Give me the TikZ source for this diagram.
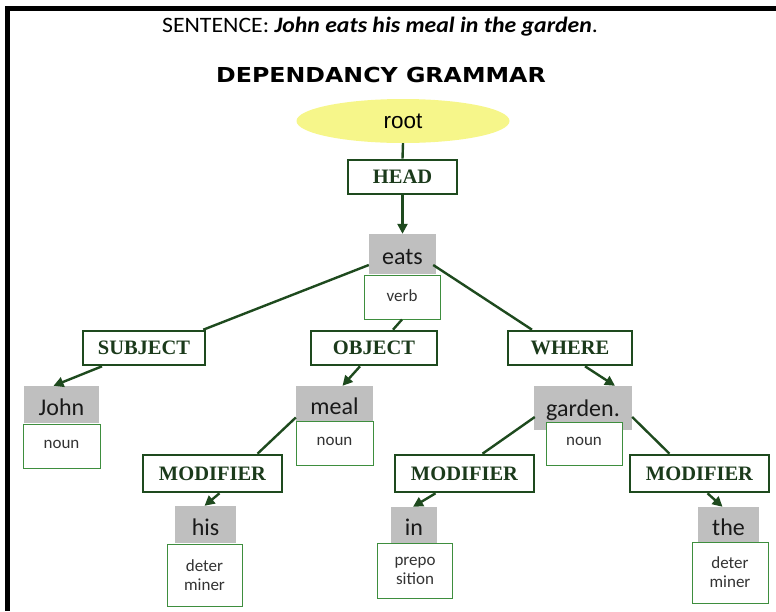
\documentclass[tikz,border=0pt]{standalone}
\usepackage{fontspec}
\setmainfont{Liberation Serif}
\newfontfamily\calfont{Carlito}
\newfontfamily\arialfont{Liberation Sans}
\newfontfamily\headfont{DejaVu Sans}
\usetikzlibrary{arrows.meta,calc,shapes.geometric}
\definecolor{relgreen}{HTML}{1E4A1E}
\definecolor{reltext}{HTML}{1B3A1B}
\definecolor{tagline}{HTML}{3E8E3E}
\definecolor{wordgray}{HTML}{BFBFBF}
\definecolor{rootyellow}{HTML}{F6F68A}
\tikzset{
  relbox/.style={draw=relgreen, line width=2.6pt, fill=white, inner sep=0pt,
    minimum height=34pt, font=\fontsize{20.5}{20.5}\selectfont\bfseries, text=reltext},
  wordbox/.style={fill=wordgray, inner sep=0pt, text height=21pt, text depth=0pt,
    font=\calfont\fontsize{24}{24}\selectfont, text=black!90},
  tagbox/.style={draw=tagline, line width=1pt, fill=white, inner sep=0pt, align=center,
    font=\calfont\fontsize{17}{19}\selectfont, text=black!80},
  link/.style={draw=relgreen, line width=2.4pt},
  arc/.style={link, -{Triangle[length=10pt,width=10pt]}}
}
\newcommand{\lifted}[2]{\raisebox{#1}{#2}}
\begin{document}
\begin{tikzpicture}[x=1pt,y=-1pt]
\useasboundingbox (0,0) rectangle (776,611);
% frame on the left and top
\fill[black] (5,6) rectangle (10,611);
\fill[black] (5,6) rectangle (776,11);

% headings
\node[font=\calfont\fontsize{22}{22}\selectfont] (sent) at (380,27)
  {\scalebox{1.08}[1]{SENTENCE: \textbf{\itshape John eats his meal in the garden}.}};
\node[font=\headfont\bfseries\fontsize{20.6}{20.6}\selectfont] (dg) at (381,75)
  {\scalebox{1.15}[1]{DEPENDANCY GRAMMAR}};

% root and head
\node[ellipse, fill=rootyellow, minimum width=213pt, minimum height=44pt, inner sep=0pt,
  font=\arialfont\fontsize{22.5}{22.5}\selectfont] (root) at (403,121) {root};
\node[relbox, minimum width=109pt] (head) at (402.5,177) {HEAD};

% word boxes with their tags
\node[wordbox, minimum width=67pt, minimum height=40pt] (eats) at (402.5,254) {eats};
\node[tagbox, minimum width=76pt, minimum height=44pt] (eatsT) at (402,297) {\lifted{3pt}{verb}};

\node[wordbox, minimum width=75pt, minimum height=37pt] (john) at (61.5,404.5) {John};
\node[tagbox, minimum width=77pt, minimum height=44pt] (johnT) at (61.5,446) {\lifted{3pt}{noun}};

\node[wordbox, minimum width=77pt, minimum height=35pt] (meal) at (334.5,403.5) {meal};
\node[tagbox, minimum width=77pt, minimum height=44pt] (mealT) at (334.5,443) {\lifted{4pt}{noun}};

\node[wordbox, text height=16pt, minimum width=98pt, minimum height=44pt] (garden) at (583,408) {garden.};
\node[tagbox, minimum width=76pt, minimum height=43pt] (gardenT) at (584,443.5) {\lifted{4pt}{noun}};

\node[wordbox, minimum width=61pt, minimum height=37pt] (his) at (205.5,524.5) {his};
\node[tagbox, minimum width=75pt, minimum height=62pt] (hisT) at (204.5,575) {deter\\miner};

\node[wordbox, minimum width=46pt, minimum height=36pt] (in) at (414,525) {in};
\node[tagbox, minimum width=75pt, minimum height=55pt] (inT) at (415,570.5) {prepo\\sition};

\node[wordbox, minimum width=61pt, minimum height=36pt] (the) at (728.5,525) {the};
\node[tagbox, minimum width=76pt, minimum height=61pt] (theT) at (730,572.5) {deter\\miner};

% relation boxes
\node[relbox, minimum width=122pt] (subject) at (144,348) {SUBJECT};
\node[relbox, minimum width=126pt] (object) at (374,348) {OBJECT};
\node[relbox, minimum width=124pt] (where) at (570,348) {WHERE};
\node[relbox, minimum width=139pt, minimum height=37pt] (mod1) at (212.5,473.5) {MODIFIER};
\node[relbox, minimum width=139pt, minimum height=37pt] (mod2) at (464.5,473.5) {MODIFIER};
\node[relbox, minimum width=139pt, minimum height=37pt] (mod3) at (699.5,473.5) {MODIFIER};

% connectors
\draw[link] (root.south) -- (head.north);
\draw[arc] (head.south) -- (eats.north);

\draw[link] ($(eats.west)+(0,11)$) -- ($(subject.north east)+(-3,0)$);
\draw[link] (eatsT.south) -- ($(object.north)+(19,0)$);
\draw[link] ($(eats.east)+(-3,11)$) -- ($(where.north)+(-38,0)$);

\draw[arc] ($(subject.south)+(-42,0)$) -- ($(john.north)+(-8,0)$);
\draw[arc] ($(object.south)+(-14,0)$) -- ($(meal.north)+(8,0)$);
\draw[arc] ($(where.south)+(15,0)$) -- ($(garden.north)+(32,0)$);

\draw[link] ($(meal.west)+(0,14)$) -- ($(mod1.north)+(45,0)$);
\draw[link] ($(garden.west)+(1,9)$) -- ($(mod2.north)+(18,0)$);
\draw[link] ($(garden.east)+(0,9)$) -- ($(mod3.north)+(-30,0)$);

\draw[arc] ($(mod1.south)+(7,0)$) -- ($(his.north)+(-1,0)$);
\draw[arc] ($(mod2.south)+(-29,0)$) -- ($(in.north)+(-1,0)$);
\draw[arc] ($(mod3.south)+(8,0)$) -- ($(the.north)+(-6,0)$);
\end{tikzpicture}
\end{document}
